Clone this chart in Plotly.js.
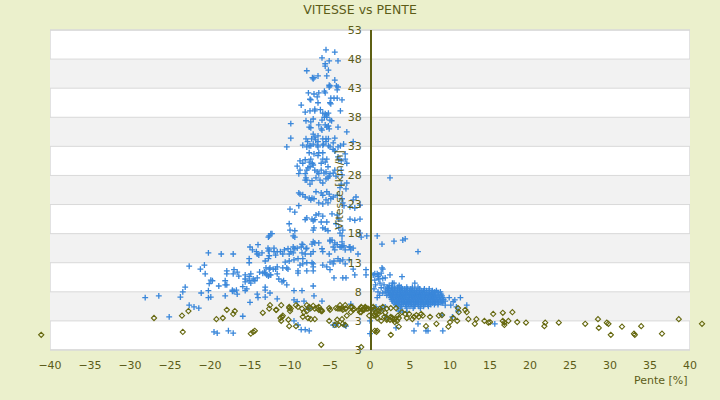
<!DOCTYPE html>
<html>
<head>
<meta charset="utf-8">
<script src="https://cdn.plot.ly/plotly-3.0.1.min.js"></script>
<style>html,body{margin:0;padding:0;background:#EBF0CC;}#chart{width:720px;height:400px;}</style>
</head>
<body>
<div id="chart"></div>
<script>
// ---- Data ----
var yTickVals = [-2, 3, 8, 13, 18, 23, 28, 33, 38, 43, 48, 53];
var yTickText = ['3', '3', '8', '13', '18', '23', '28', '33', '38', '43', '48', '53'];
var xTickVals = [-40, -35, -30, -25, -20, -15, -10, -5, 0, 5, 10, 15, 20, 25, 30, 35, 40];
var bandRanges = [[3, 8], [13, 18], [23, 28], [33, 38], [43, 48]];

// blue series: left tail
var blueTail = [[-28.1,7.0],[-26.4,7.3],[-25.1,3.7],[-23.7,7.1],[-23.4,8.0],[-23.1,8.8],[-22.6,12.4],[-22.6,5.7],[-22.0,5.4],[-21.4,5.2],[-21.1,7.8],[-20.2,7.0],[-20.1,9.4],[-19.9,7.1],[-19.9,10.0],[-19.7,9.9],[-20.2,8.2],[-20.2,14.7],[-20.7,12.6],[-21.2,11.9],[-20.6,11.1],[-19.5,1.1],[-19.1,0.9],[-18.9,9.0],[-18.1,7.3],[-17.7,1.3],[-17.1,0.9],[-17.2,8.1],[-16.6,7.6],[-18.6,14.5],[-18.1,9.9],[-18.1,9.2],[-17.9,9.2],[-17.9,11.6],[-17.9,11.1],[-17.1,11.1],[-17.1,14.5],[-17.0,11.8],[-16.6,11.4],[-17.2,8.3],[-16.7,8.3],[-17.0,8.1],[-16.4,10.7],[-15.9,8.9],[-15.6,8.2],[-15.4,8.5],[-15.6,10.9],[-15.6,10.2],[-15.1,10.6],[-15.6,9.7],[-15.1,9.9],[-14.9,9.5],[-14.9,11.1],[-14.6,10.2],[-14.4,9.9],[-14.1,10.4],[-15.1,13.7],[-15.1,13.0],[-15.0,15.7],[-14.7,15.2],[-14.0,16.1],[-14.2,14.9],[-14.1,14.5],[-13.9,14.3],[-13.5,14.7],[-13.1,13.3],[-12.7,13.7],[-12.6,14.2],[-12.7,15.0],[-12.6,15.2],[-12.7,17.4],[-12.4,18.0],[-12.0,14.9],[-11.6,14.9],[-11.2,14.9],[-10.7,15.2],[-11.8,14.3],[-10.9,14.5],[-10.1,14.5],[-10.6,13.1],[-10.1,13.3],[-13.1,11.2],[-12.9,10.9],[-12.4,10.9],[-12.7,10.7],[-13.8,11.4],[-13.4,11.2],[-13.2,11.4],[-13.0,12.1],[-12.6,11.9],[-12.5,12.1],[-11.8,11.9],[-11.6,11.1],[-10.9,12.1],[-10.4,12.1],[-11.4,10.2],[-10.8,9.9],[-10.4,9.2],[-13.1,8.8],[-13.1,8.3],[-12.5,7.8],[-14.1,7.6],[-14.0,7.0],[-13.1,7.1],[-15.0,6.2],[-15.9,3.8]];

// blue series: peak
var bluePeak = [[-5.5,49.6],[-4.4,49.2],[-6.0,48.2],[-5.1,47.7],[-4.0,47.7],[-5.6,47.2],[-5.6,46.8],[-7.9,46.0],[-5.2,46.1],[-7.2,44.8],[-7.1,44.6],[-7.0,44.8],[-6.5,45.1],[-5.4,45.1],[-4.4,44.4],[-5.1,43.5],[-5.0,43.4],[-5.1,43.2],[-4.2,43.4],[-4.0,43.2],[-4.1,42.7],[-5.7,42.5],[-5.6,42.2],[-6.4,42.2],[-7.7,42.2],[-7.0,42.0],[-7.5,41.1],[-7.4,41.0],[-6.6,41.5],[-6.5,40.5],[-6.9,39.4],[-6.9,39.1],[-7.5,39.1],[-8.1,38.9],[-4.9,41.3],[-4.5,41.3],[-4.1,41.3],[-5.0,40.5],[-4.9,40.3],[-3.5,41.0],[-8.6,40.1],[-3.7,39.1],[-6.2,39.3],[-5.9,38.7],[-5.6,38.6],[-5.4,38.4],[-5.2,38.7],[-5.7,38.0],[-6.0,37.5],[-5.4,38.0],[-7.1,37.7],[-7.4,37.2],[-8.0,37.4],[-7.6,36.3],[-7.4,36.2],[-5.0,37.5],[-4.8,37.4],[-5.2,36.5],[-5.1,36.0],[-6.4,36.7],[-6.1,36.0],[-6.0,35.8],[-5.6,36.7],[-5.4,36.3],[-4.0,36.3],[-9.9,36.9],[-9.9,34.4],[-10.4,32.9],[-2.9,35.5],[-2.1,33.8],[-8.4,33.2],[-7.1,35.1],[-6.9,34.6],[-7.3,34.3],[-6.8,34.1],[-7.1,33.4],[-6.5,34.8],[-5.9,34.3],[-5.5,34.3],[-5.2,34.3],[-8.0,34.3],[-7.9,32.9],[-7.6,33.1],[-6.5,32.9],[-5.8,33.4],[-5.0,32.9],[-4.6,33.6],[-4.4,34.4],[-4.0,32.9],[-3.7,33.1],[-3.3,33.4],
[-7.8,33.8],[-7.4,33.1],[-6.5,33.8],[-6.6,33.2],[-5.9,33.2],[-5.5,33.8],[-5.2,33.1],[-4.6,32.5],[-4.4,32.2],[-7.6,31.9],[-7.0,31.7],[-6.4,31.9],[-5.9,31.9],[-8.75,30.5],[-8.1,30.7],[-7.6,30.3],[-8.4,30.1],[-7.4,30.8],[-7.2,30.1],[-7.1,29.8],[-7.5,29.5],[-7.75,29.3],[-7.9,28.9],[-8.1,28.3],[-8.0,27.6],[-8.1,27.2],[-7.9,27.2],[-9.1,29.6],[-8.75,28.9],[-8.9,28.3],[-6.5,31.4],[-5.9,30.8],[-6.1,30.1],[-5.6,30.3],[-5.4,30.8],[-6.9,28.9],[-6.6,28.6],[-6.4,28.3],[-6.1,28.9],[-5.75,28.4],[-5.5,28.6],[-5.25,29.5],[-5.0,28.3],[-5.25,27.6],[-5.1,27.9],[-4.6,28.4],[-4.4,28.9],[-4.25,27.9],[-6.75,27.6],[-6.25,27.2],[-5.9,26.7],[-5.5,27.4],[-7.25,27.1],[-7.5,26.5],[-3.6,26.5],[-3.75,25.9],[-3.5,28.1],[-3.6,28.9],[-2.9,30.1],[-2.9,26.7],[-3.0,25.7],[-4.0,31.2],[-3.9,30.8],[-3.6,30.5],[-3.1,30.8],[-3.1,31.7],
[-8.9,25.0],[-8.75,24.8],[-8.4,24.7],[-8.1,24.3],[-7.6,24.1],[-7.25,24.1],[-7.0,24.0],[-7.4,23.8],[-6.75,25.2],[-6.1,25.0],[-5.9,24.6],[-5.4,25.2],[-5.1,24.8],[-6.4,23.3],[-5.9,23.1],[-5.25,23.3],[-5.5,23.8],[-4.9,24.0],[-4.6,24.3],[-4.1,24.6],[-3.5,24.0],[-3.4,23.3],[-3.25,22.8],[-2.5,22.6],[-1.9,22.4],[-1.25,22.9],[-1.75,24.3],[-2.1,23.8],[-10.0,22.2],[-9.4,21.7],[-8.9,22.8],[-8.1,20.4],[-7.9,20.7],[-7.25,20.5],[-7.1,20.2],[-6.9,20.4],[-6.75,21.2],[-6.4,21.4],[-5.9,21.0],[-6.1,20.0],[-5.4,20.0],[-4.75,21.4],[-4.1,21.2],[-3.9,20.5],[-4.25,19.7],[-5.9,19.0],[-5.6,18.8],[-5.25,18.5],[-7.0,19.0],[-7.1,18.6],[-3.9,19.0],[-3.4,18.6],[-3.75,18.1],[-3.5,17.6],[-10.1,19.7],[-10.0,18.6],[-9.4,18.5],[-9.6,17.6],[-9.4,17.4],[-12.25,18.0],[-12.6,17.6],[-4.75,16.9],[-7.1,16.6],[-7.25,16.2],[-6.4,16.4],[-8.4,16.1],[-7.9,15.5],[-8.6,15.7],[-12.0,15.5],[-12.75,15.5],[-9.6,15.7],[-4.1,16.1],[-3.6,15.7],[-3.25,15.9],[-2.5,15.7],[-2.1,15.5],[-5.0,16.9],[-4.4,16.4],[-1.25,18.1],[-1.1,17.4],[-0.4,17.6],[-2.5,20.5],[-1.9,20.3],[-1.25,20.5],
[-10.25,15.4],[-9.9,14.9],[-9.6,14.7],[-9.4,15.4],[-9.1,15.5],[-8.5,16.2],[-8.5,14.7],[-8.1,14.5],[-8.0,15.4],[-7.4,14.5],[-7.1,14.9],[-6.9,16.4],[-6.0,15.4],[-5.9,14.9],[-5.1,14.5],[-5.0,16.7],[-4.6,15.7],[-4.4,15.2],[-3.75,15.7],[-3.5,16.6],[-3.4,15.9],[-3.1,15.2],[-2.6,15.7],[-2.4,15.2],[-1.5,14.5],
[-9.5,13.5],[-9.0,13.7],[-8.75,12.6],[-8.4,12.8],[-7.9,13.0],[-8.4,13.7],[-7.1,12.8],[-7.1,12.3],[-7.1,11.6],[-7.25,13.0],[-5.9,12.6],[-5.4,12.3],[-5.0,13.1],[-4.6,12.8],[-4.5,13.3],[-4.0,13.7],[-3.75,13.3],[-3.4,13.5],[-3.1,12.8],[-2.6,13.5],[-2.1,11.9],[-1.9,10.9],
[-12.1,11.9],[-11.6,12.3],[-10.25,11.9],[-9.0,11.6],[-9.0,11.2],[-7.9,11.6],[-5.0,11.8],[-11.0,9.7],[-12.5,10.9],[-9.5,8.2],[-8.5,8.2],[-7.1,9.0],[-7.0,7.3],[-6.0,6.4],[-11.6,6.8],[-9.5,6.6],[-9.1,6.3],[-8.25,6.4],[-7.75,5.2],[-7.5,5.1],[-4.5,10.4],[-3.4,10.4],[-3.0,10.4],[-0.5,11.8],[-0.5,10.9],[-2.4,5.9],
[-9.5,3.0],[-9.0,2.3],[-8.6,1.5],[-8.1,1.5],[-7.6,1.3],[-4.6,2.3],[-4.25,2.3],[-3.25,2.3],[-3.0,2.1]];

// blue series: positive slopes (scattered points)
var blueRight = [[0.0,3.0],[0.0,0.8],[1.5,12.1],[1.6,11.9],[1.4,11.2],[0.9,11.1],[1.1,10.9],[1.0,10.6],[0.6,11.1],[0.4,10.9],[2.5,10.9],[4.0,10.6],[6.0,14.9],[2.8,9.5],[3.0,9.5],[5.6,9.5],[1.6,10.3],[1.25,9.5],[1.75,9.2],[1.9,10.4],[0.5,8.5],[0.7,9.2],[1.0,8.0],[1.2,7.4],[0.9,7.0],[1.4,8.7],[0.6,10.0],[1.1,10.2],[1.6,7.8],[8.1,8.0],[8.8,8.0],[9.1,6.1],[9.4,5.7],[10.1,5.7],[10.8,5.4],[11.3,7.0],[12.1,5.7],[11.0,4.7],[10.3,3.7],[9.0,4.0],[2.1,3.7],[3.25,1.8],[5.5,1.3],[6.0,2.5],[7.0,1.3],[7.25,1.3],[9.1,1.3],[4.1,4.5],[4.6,4.5],[3.6,4.7],[1.9,5.4],[1.5,5.1],[0.75,5.4],[0.6,4.9],[2.5,27.6],[4.1,16.9],[0.9,17.6],[1.5,16.2],[3.0,16.7],[4.4,17.1],[15.6,2.5],[2.1,7.4],[1.9,8.0],[2.3,8.6],[10.4,6.3],[9.9,7.0],[10.6,6.6]];

// blue series: dense cluster at small positive slopes (rows of speed, slopes per row)
var blobY = [9.1, 8.8, 8.5, 8.2, 7.9, 7.6, 7.3, 7.0, 6.7, 6.4, 6.1, 5.8, 5.5, 5.2];
var blobX = [
 [2.4, 3.65],
 [2.2, 2.7, 3.1, 3.5, 3.9, 4.6, 5.3, 6.0],
 [2.0, 2.35, 2.8, 3.05, 3.45, 3.7, 4.05, 4.35, 4.7, 5.1, 5.6, 6.2, 6.8, 7.4],
 [2.2, 2.5, 2.85, 3.1, 3.4, 3.75, 4.0, 4.3, 4.6, 4.95, 5.2, 5.5, 5.8, 6.15, 6.4, 6.7, 7.05, 7.4, 7.8, 8.3],
 [2.3, 2.6, 2.9, 3.25, 3.5, 3.8, 4.1, 4.45, 4.7, 5.0, 5.35, 5.6, 5.9, 6.2, 6.55, 6.8, 7.1, 7.45, 7.7, 8.0, 8.5],
 [2.4, 2.7, 3.0, 3.3, 3.65, 3.9, 4.2, 4.5, 4.85, 5.1, 5.4, 5.7, 6.05, 6.3, 6.6, 6.9, 7.25, 7.5, 7.8, 8.1, 8.5, 8.9],
 [2.5, 2.8, 3.15, 3.4, 3.7, 4.0, 4.35, 4.6, 4.9, 5.2, 5.55, 5.8, 6.1, 6.4, 6.75, 7.0, 7.3, 7.6, 7.95, 8.2, 8.6, 9.0],
 [2.6, 2.9, 3.2, 3.55, 3.8, 4.1, 4.4, 4.75, 5.0, 5.3, 5.6, 5.95, 6.2, 6.5, 6.8, 7.15, 7.4, 7.7, 8.0, 8.35, 8.7, 9.1],
 [2.7, 3.0, 3.3, 3.6, 3.95, 4.2, 4.5, 4.8, 5.15, 5.4, 5.7, 6.0, 6.35, 6.6, 6.9, 7.2, 7.55, 7.8, 8.1, 8.4, 8.8, 9.2],
 [2.8, 3.1, 3.45, 3.7, 4.0, 4.3, 4.65, 4.9, 5.2, 5.5, 5.85, 6.1, 6.4, 6.7, 7.05, 7.3, 7.6, 7.9, 8.25, 8.6, 9.0, 9.4],
 [3.0, 3.35, 3.6, 3.9, 4.2, 4.55, 4.8, 5.1, 5.4, 5.75, 6.0, 6.3, 6.6, 6.95, 7.2, 7.5, 7.8, 8.15, 8.5, 8.9],
 [3.2, 3.6, 4.0, 4.45, 4.8, 5.2, 5.65, 6.0, 6.4, 6.85, 7.2, 7.6, 8.05, 8.5],
 [3.4, 3.9, 4.5, 5.0, 5.55, 6.1, 6.7, 7.3],
 [3.8, 4.6, 5.4, 6.3]
];

// olive series (inside the axis range)
var olivePts = [[14.3,3.0],[14.8,2.7],[15.0,2.8],[15.4,4.2],[16.6,4.4],[16.6,3.0],[16.8,2.7],[16.8,2.3],[17.3,3.0],[17.8,4.5],[18.4,2.8],[19.5,2.7],[21.9,2.7],[21.8,2.1],[23.6,2.7],[26.9,2.5],[28.5,3.3],[28.6,1.8],[29.6,2.7],[29.8,2.5],[30.1,0.6],[31.5,2.0],[33.0,0.8],[33.1,0.6],[33.9,2.1],[36.5,0.8],[38.6,3.3],
[1.6,5.4],[1.8,3.7],[1.9,4.4],[2.1,3.5],[2.5,3.2],[2.8,3.5],[2.9,3.2],[3.1,3.3],[3.4,3.0],[3.5,3.9],[4.0,4.5],[4.4,4.2],[4.6,3.5],[4.9,4.2],[5.3,3.3],[5.5,3.7],[5.8,4.0],[6.1,3.7],[6.4,4.2],[6.6,3.9],[7.0,2.1],[7.5,3.7],[8.3,2.5],[8.6,3.9],[9.0,4.0],[9.8,2.0],[10.0,2.8],[10.4,3.5],[10.9,3.0],[11.0,5.2],[11.1,4.5],[11.9,4.9],[12.1,4.5],[12.3,3.3],[13.1,2.5],[13.3,3.3],[0.8,1.1],[2.6,0.6],[-1.1,-1.5],
[-1.1,5.4],[-0.9,4.9],[-0.6,5.4],[-0.4,5.1],[0.1,5.1],[0.5,4.9],[0.75,4.5],[0.6,4.0],[1.0,4.2],[1.25,5.1],[1.4,4.7],
[-6.1,4.7],[-5.1,5.2],[-4.25,5.2],[-3.75,5.1],[-3.5,5.2],[-3.1,5.1],[-2.25,5.4],[-2.0,5.1],[-1.4,4.9],[-1.1,4.5],[-0.75,5.1],[-0.25,5.1],[0.4,5.4],[0.6,5.1],[1.1,4.7],[2.1,5.1],[2.6,5.2],[3.25,5.2],[-0.1,3.9],[0.4,3.9],[0.9,3.5],[1.4,3.0],[2.1,3.2],[2.6,3.7],[3.1,2.8],[3.6,3.5],[0.6,1.3],[3.6,2.0],[-4.1,3.2],[-3.4,2.5],[-3.1,2.3],[-6.1,-1.1],
[-11.75,4.9],[-11.0,3.7],[-10.1,5.4],[-9.9,5.1],[-10.0,4.7],[-9.25,5.7],[-9.0,5.4],[-8.5,5.1],[-8.25,4.5],[-7.9,4.7],[-7.9,5.7],[-7.6,5.4],[-7.4,5.2],[-7.1,5.6],[-6.9,5.1],[-6.6,5.2],[-6.4,5.4],[-6.1,4.9],[-8.4,3.7],[-7.75,3.5],[-7.4,3.3],[-6.9,3.3],[-6.4,4.9],[-6.0,4.7],[-5.0,4.9],[-5.1,3.0],[-4.0,5.1],[-3.75,5.7],[-3.4,4.9],[-3.0,5.1],[-3.1,5.7],[-2.4,5.4],[-2.1,4.9],[-2.4,4.5],[-3.5,3.3],[-2.9,3.9],[-1.25,5.1],[-1.25,4.5],[-0.6,5.2],[-9.25,2.1],[-4.4,2.3],[-3.9,2.3],[-0.75,4.9],[0.75,3.9],[0.9,1.3],
[-27.0,3.5],[-23.5,3.9],[-23.4,1.1],[-22.7,4.7],[-19.2,3.3],[-18.4,3.5],[-17.9,4.9],[-17.1,4.2],[-16.9,4.7],[-14.9,0.8],[-14.6,1.1],[-14.4,1.3],[-13.4,4.4],[-12.6,5.1],[-12.5,5.7],[-11.7,4.9],[-11.1,5.7],[-11.2,3.5],[-11.1,3.0],[-10.9,3.9],[-10.2,3.2],[-10.1,5.2],[-10.1,2.1]];
// olive points lying outside the -40..40 axis range (drawn in the margin)
var oliveOutside = [[41.5,2.5],[-41.1,0.6]];

// ---- Build traces ----
var bx = [], by = [];
[blueTail, bluePeak, blueRight].forEach(function (arr) {
  arr.forEach(function (p) { bx.push(p[0]); by.push(p[1]); });
});
blobY.forEach(function (yv, i) {
  blobX[i].forEach(function (xv) { bx.push(xv); by.push(yv); });
});
function col(arr, k) { return arr.map(function (p) { return p[k]; }); }

var olive = '#5E6014';
var textCol = '#5C5C18';
var font = 'DejaVu Sans, Verdana, sans-serif';
var blueMarker = { symbol: 'cross-thin', size: 4.2, line: { width: 1.3, color: '#3A87DA' }, color: '#3A87DA' };
var oliveMarker = { symbol: 'diamond-open', size: 4, line: { width: 1.1, color: '#66680F' }, color: '#66680F' };

var traces = [
  { type: 'scatter', mode: 'markers', x: bx, y: by, hoverinfo: 'skip', marker: blueMarker },
  { type: 'scatter', mode: 'markers', x: col(olivePts, 0), y: col(olivePts, 1), hoverinfo: 'skip', marker: oliveMarker },
  { type: 'scatter', mode: 'markers', x: col(oliveOutside, 0), y: col(oliveOutside, 1), xaxis: 'x2', yaxis: 'y',
    hoverinfo: 'skip', marker: oliveMarker }
];

// plot area background, bands, gridlines, border (all tied to the axes)
var shapes = [{ type: 'rect', xref: 'x', yref: 'paper', x0: -40, x1: 40, y0: 0, y1: 1,
                fillcolor: '#FFFFFF', line: { width: 0 }, layer: 'below' }];
bandRanges.forEach(function (b) {
  shapes.push({ type: 'rect', xref: 'x', yref: 'y', x0: -40, x1: 40, y0: b[0], y1: b[1],
                fillcolor: '#F2F2F2', line: { width: 0 }, layer: 'below' });
});
yTickVals.forEach(function (v) {
  shapes.push({ type: 'line', xref: 'x', yref: 'y', x0: -40, x1: 40, y0: v, y1: v,
                line: { color: '#D9D9D9', width: 1 }, layer: 'below' });
});
shapes.push({ type: 'rect', xref: 'x', yref: 'paper', x0: -40, x1: 40, y0: 0, y1: 1,
              line: { color: '#D9D9D9', width: 1.5 }, fillcolor: 'rgba(0,0,0,0)', layer: 'below' });

var layout = {
  width: 720, height: 400,
  margin: { l: 30, r: 10, t: 30, b: 50 },
  paper_bgcolor: '#EBF0CC',
  plot_bgcolor: 'rgba(0,0,0,0)',
  showlegend: false,
  font: { family: font, color: textCol, size: 11 },
  title: { text: 'VITESSE vs PENTE', x: 0.5, xref: 'container', xanchor: 'center',
           y: 0.975, yref: 'container', yanchor: 'middle',
           font: { family: font, size: 12.5, color: textCol } },
  xaxis: { domain: [20 / 680, 660 / 680], range: [-40, 40], tickvals: xTickVals, showgrid: false, zeroline: false,
           showline: false, ticks: '', ticklabelstandoff: 7,
           tickfont: { family: font, size: 11, color: textCol } },
  xaxis2: { domain: [0, 1], range: [-42.5, 42.5], visible: false, anchor: 'y' },
  yaxis: { range: [-2, 53], tickvals: yTickVals, ticktext: yTickText,
           anchor: 'free', position: 0.5, showline: true, linecolor: olive, linewidth: 1.5,
           showgrid: false, zeroline: false, ticks: '',
           ticklabelstandoff: 6,
           tickfont: { family: font, size: 11, color: textCol } },
  shapes: shapes,
  annotations: [
    { text: 'Pente [%]', xref: 'x', yref: 'paper', x: 40, y: -0.094,
      xanchor: 'right', yanchor: 'middle', showarrow: false,
      font: { family: font, size: 11, color: textCol } },
    { text: 'Vitesse [km/h]', xref: 'x', yref: 'y', x: -3.9, y: 25.5, textangle: -90,
      xanchor: 'center', yanchor: 'middle', showarrow: false,
      font: { family: font, size: 11, color: textCol } }
  ]
};

Plotly.newPlot('chart', traces, layout, { staticPlot: true, displayModeBar: false });
</script>
</body>
</html>
